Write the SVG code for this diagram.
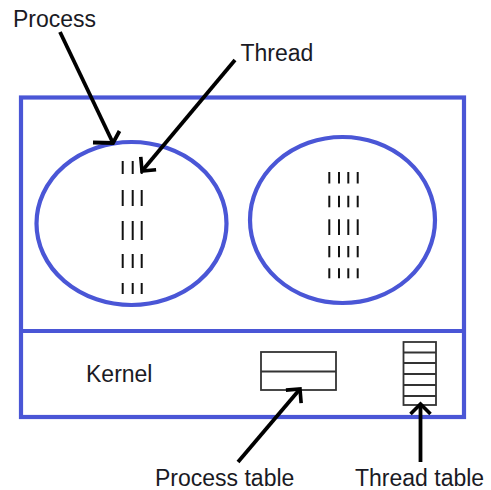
<svg xmlns="http://www.w3.org/2000/svg" width="491" height="490" viewBox="0 0 491 490">
  <style>
    .blue { fill: none; stroke: #4a56d6; stroke-width: 4.2; }
    .tbl { fill: #ffffff; stroke: #333333; stroke-width: 1.8; }
    .tline { stroke: #333333; stroke-width: 1.8; }
    .th { stroke: #111111; stroke-width: 2; }
    .lbl { font-family: "Liberation Sans", Arial, sans-serif; font-size: 23px; fill: #1a1a24; }
    .conn { fill: none; stroke: #000000; stroke-width: 3.8; }
  </style>
  <defs>
    <marker id="arrow" markerUnits="userSpaceOnUse" markerWidth="30" markerHeight="30" refX="0" refY="0" viewBox="-15 -15 30 30" orient="auto" overflow="visible">
      <path d="M -10 -10 L 0 0 L -10 10" fill="none" stroke="#000000" stroke-width="3.6" stroke-linejoin="miter"/>
    </marker>
  </defs>
  <rect width="491" height="490" fill="#ffffff"/>

  <g id="system">
    <rect class="blue" x="21" y="97.5" width="443" height="319.5"/>
    <line class="blue" x1="21" y1="331" x2="464" y2="331"/>
  </g>

  <g id="process1">
    <ellipse class="blue" cx="131.5" cy="223.5" rx="95" ry="81.5"/>
    <g id="threads1">
      <line class="th" x1="122.7" y1="161" x2="122.7" y2="174"/>
      <line class="th" x1="132.7" y1="161" x2="132.7" y2="174"/>
      <line class="th" x1="141.7" y1="161" x2="141.7" y2="174"/>
      <line class="th" x1="122.7" y1="190" x2="122.7" y2="206"/>
      <line class="th" x1="132.7" y1="190" x2="132.7" y2="206"/>
      <line class="th" x1="141.7" y1="190" x2="141.7" y2="206"/>
      <line class="th" x1="122.7" y1="221" x2="122.7" y2="240"/>
      <line class="th" x1="132.7" y1="221" x2="132.7" y2="240"/>
      <line class="th" x1="141.7" y1="221" x2="141.7" y2="240"/>
      <line class="th" x1="122.7" y1="254" x2="122.7" y2="268"/>
      <line class="th" x1="132.7" y1="254" x2="132.7" y2="268"/>
      <line class="th" x1="141.7" y1="254" x2="141.7" y2="268"/>
      <line class="th" x1="122.7" y1="283" x2="122.7" y2="294"/>
      <line class="th" x1="132.7" y1="283" x2="132.7" y2="294"/>
      <line class="th" x1="141.7" y1="283" x2="141.7" y2="294"/>
    </g>
  </g>

  <g id="process2">
    <ellipse class="blue" cx="342.5" cy="220" rx="92.5" ry="83"/>
    <g id="threads2">
      <line class="th" x1="329.3" y1="172" x2="329.3" y2="183.5"/>
      <line class="th" x1="339" y1="172" x2="339" y2="183.5"/>
      <line class="th" x1="348.3" y1="172" x2="348.3" y2="183.5"/>
      <line class="th" x1="357.7" y1="172" x2="357.7" y2="183.5"/>
      <line class="th" x1="329.3" y1="195.7" x2="329.3" y2="207.3"/>
      <line class="th" x1="339" y1="195.7" x2="339" y2="207.3"/>
      <line class="th" x1="348.3" y1="195.7" x2="348.3" y2="207.3"/>
      <line class="th" x1="357.7" y1="195.7" x2="357.7" y2="207.3"/>
      <line class="th" x1="329.3" y1="219.3" x2="329.3" y2="235"/>
      <line class="th" x1="339" y1="219.3" x2="339" y2="235"/>
      <line class="th" x1="348.3" y1="219.3" x2="348.3" y2="235"/>
      <line class="th" x1="357.7" y1="219.3" x2="357.7" y2="235"/>
      <line class="th" x1="329.3" y1="246" x2="329.3" y2="257.3"/>
      <line class="th" x1="339" y1="246" x2="339" y2="257.3"/>
      <line class="th" x1="348.3" y1="246" x2="348.3" y2="257.3"/>
      <line class="th" x1="357.7" y1="246" x2="357.7" y2="257.3"/>
      <line class="th" x1="329.3" y1="268.3" x2="329.3" y2="278.3"/>
      <line class="th" x1="339" y1="268.3" x2="339" y2="278.3"/>
      <line class="th" x1="348.3" y1="268.3" x2="348.3" y2="278.3"/>
      <line class="th" x1="357.7" y1="268.3" x2="357.7" y2="278.3"/>
    </g>
  </g>

  <g id="kernel">
    <text class="lbl" x="86" y="382">Kernel</text>
  </g>

  <g id="process-table">
    <rect class="tbl" x="261" y="352" width="75" height="38"/>
    <line class="tline" x1="261" y1="371.5" x2="336" y2="371.5"/>
  </g>

  <g id="thread-table">
    <rect class="tbl" x="403.5" y="342" width="32.5" height="63"/>
    <line class="tline" x1="403.5" y1="352.5" x2="436" y2="352.5"/>
    <line class="tline" x1="403.5" y1="363" x2="436" y2="363"/>
    <line class="tline" x1="403.5" y1="374" x2="436" y2="374"/>
    <line class="tline" x1="403.5" y1="385" x2="436" y2="385"/>
    <line class="tline" x1="403.5" y1="396" x2="436" y2="396"/>
  </g>

  <g id="label-process">
    <text class="lbl" x="13" y="27">Process</text>
  </g>
  <g id="label-thread">
    <text class="lbl" x="240.5" y="60.5">Thread</text>
  </g>
  <g id="label-process-table">
    <text class="lbl" x="155" y="486">Process table</text>
  </g>
  <g id="label-thread-table">
    <text class="lbl" x="355" y="486">Thread table</text>
  </g>

  <g id="connectors">
    <line class="conn" x1="60" y1="32" x2="113" y2="143"/>
    <path class="conn" d="M 93 142.5 L 113 143 L 119.5 131" stroke-width="3.6"/>
    <line class="conn" x1="235" y1="60" x2="142" y2="171" marker-end="url(#arrow)"/>
    <line class="conn" x1="238" y1="462" x2="300" y2="389" marker-end="url(#arrow)"/>
    <line class="conn" x1="420.5" y1="462" x2="420.5" y2="404" marker-end="url(#arrow)"/>
  </g>
</svg>
